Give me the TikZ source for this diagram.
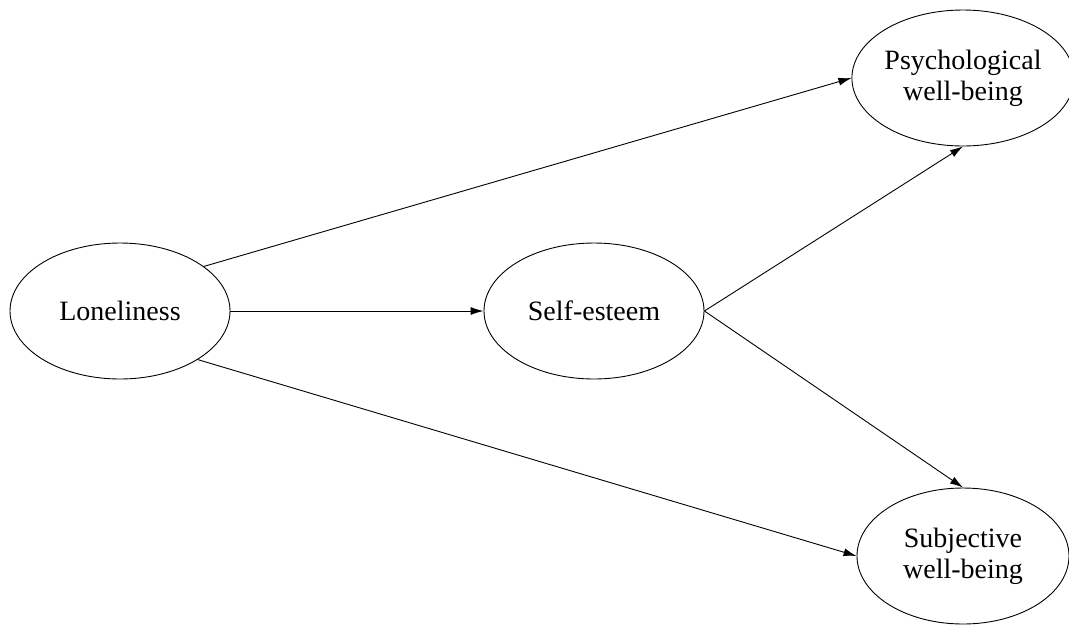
\documentclass[tikz,border=0pt]{standalone}
\usepackage{fontspec}
\setmainfont{Liberation Serif}
\usetikzlibrary{shapes.geometric,arrows.meta}
\begin{document}
\begin{tikzpicture}[x=1pt, y=-1pt,
        var/.style={ellipse, draw, line width=0.9pt, minimum width=220pt, minimum height=136pt,
            inner sep=0pt, align=center, font=\fontsize{28}{31}\selectfont},
        path/.style={-{Latex[length=13pt,width=8pt]}, line width=0.9pt}]
        \useasboundingbox (0,0) rectangle (1069,625);
        
        \node[var] (lone) at (120, 311) {Loneliness};
        \node[var] (self) at (594, 311) {Self-esteem};
        \node[var, minimum width=212pt] (psy) at (963, 78) {Psychological\\well-being};
        \node[var, minimum width=212pt] (sub) at (963, 556) {Subjective\\well-being};
        
        \draw[path] (lone.28) -- (psy.west);
        \draw[path] (lone.east) -- (self.west);
        \draw[path] (lone.-32) -- (sub.west);
        \draw[path] (self.east) -- (psy.south);
        \draw[path] (self.east) -- (sub.north);
    \end{tikzpicture}
\end{document}
